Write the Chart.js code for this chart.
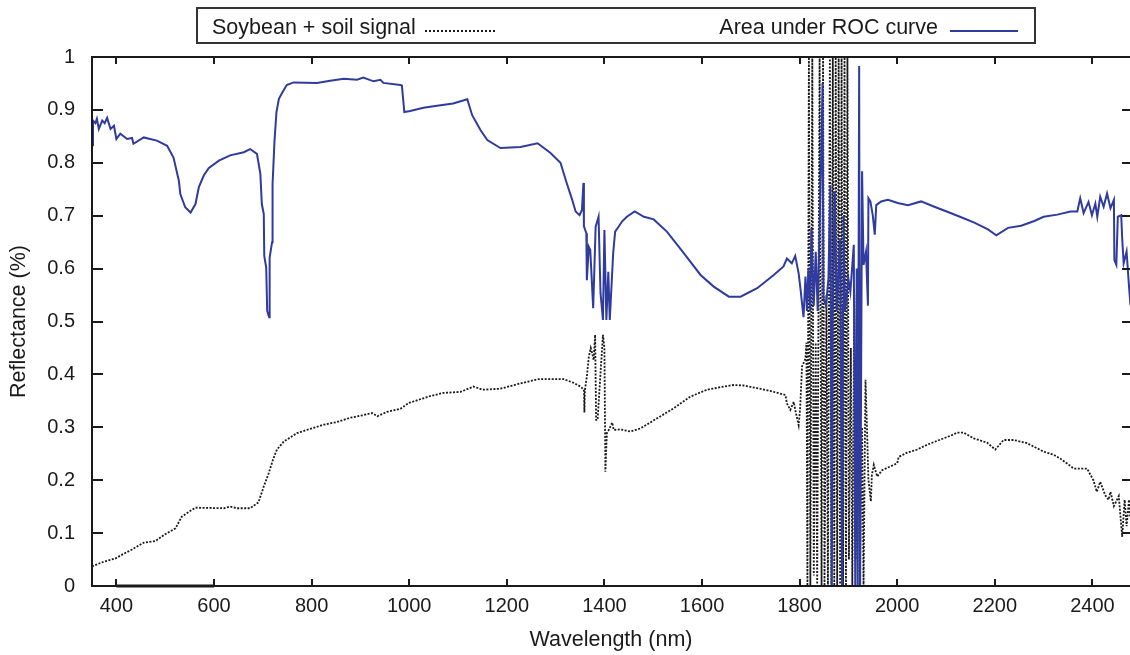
<!DOCTYPE html>
<html>
<head>
<meta charset="utf-8">
<script src="https://cdn.jsdelivr.net/npm/chart.js@4.4.1/dist/chart.umd.min.js"></script>
<style>
  html, body { margin: 0; padding: 0; background: #fff; }
  #wrap { position: relative; width: 1130px; height: 655px; overflow: hidden; font-family: 'Liberation Sans', Arial, sans-serif; color: #1a1a1a; }
  #chart { position: absolute; left: 0; top: 0; }
  #legend { position: absolute; left: 196px; top: 7px; width: 836px; height: 33px; border: 2px solid #333; }
  #legend .txt { position: absolute; top: 6px; font-size: 21.5px; line-height: 24px; white-space: nowrap; }
  #legend .smp { position: absolute; top: 21px; height: 0; }
  .dots { border-top: 2px dotted #1a1a1a; }
  .solid { border-top: 2px solid #2f3b9e; }
</style>
</head>
<body>
<div id="wrap">
  <canvas id="chart" width="1130" height="655"></canvas>
  <div id="legend">
    <span class="txt" id="lt0" style="left:14px"></span>
    <span class="smp dots" style="left:227px; width:70px"></span>
    <span class="txt" id="lt1" style="right:96px"></span>
    <span class="smp solid" style="left:752px; width:68px"></span>
  </div>
</div>
<script>
// series names
const seriesNames = ['Soybean + soil signal', 'Area under ROC curve'];

// soybean + soil signal (black dotted), wavelength in nm
const soyWavelength = [350, 374, 398, 415, 432, 456, 480, 500, 521, 534, 548, 562, 620, 633, 647, 674, 691, 702, 712, 721,
  729, 743, 770, 797, 825, 852, 879, 906, 924, 935, 954, 982, 999, 1023, 1043, 1070, 1105, 1132, 1150, 1187,
  1228, 1265, 1317, 1337, 1351, 1358, 1359, 1360, 1364, 1368, 1372, 1375, 1378, 1381, 1383, 1386, 1392, 1396, 1397, 1400,
  1402, 1405, 1409, 1416, 1419, 1433, 1453, 1474, 1508, 1542, 1576, 1610, 1644, 1665, 1685, 1713, 1747, 1771, 1774, 1781,
  1788, 1791, 1798, 1801, 1805, 1812, 1814, 1816, 1819, 1822, 1826, 1829, 1833, 1836, 1841, 1845, 1848, 1851, 1855, 1858,
  1862, 1865, 1868, 1871, 1874, 1877, 1880, 1883, 1886, 1889, 1892, 1895, 1898, 1901, 1905, 1908, 1912, 1915, 1919, 1923,
  1928, 1931, 1935, 1938, 1941, 1946, 1948, 1952, 1959, 1969, 1986, 2000, 2003, 2020, 2041, 2061, 2089, 2109, 2123, 2136,
  2157, 2184, 2201, 2218, 2239, 2266, 2300, 2321, 2334, 2362, 2375, 2389, 2402, 2409, 2416, 2426, 2433, 2437, 2444, 2454,
  2461, 2466, 2470, 2475, 2477, 2478];
const soyReflectance = [0.037, 0.046, 0.052, 0.061, 0.069, 0.082, 0.085, 0.098, 0.109, 0.131, 0.14, 0.148, 0.147, 0.15, 0.147, 0.147, 0.158, 0.188, 0.213, 0.239,
  0.258, 0.273, 0.289, 0.297, 0.305, 0.31, 0.318, 0.323, 0.327, 0.321, 0.329, 0.335, 0.346, 0.353, 0.359, 0.365, 0.367, 0.377, 0.371, 0.373,
  0.383, 0.391, 0.391, 0.384, 0.377, 0.371, 0.328, 0.37, 0.396, 0.433, 0.45, 0.44, 0.427, 0.475, 0.314, 0.314, 0.402, 0.46, 0.475, 0.45,
  0.216, 0.289, 0.295, 0.309, 0.295, 0.296, 0.292, 0.298, 0.317, 0.336, 0.358, 0.371, 0.377, 0.38, 0.379, 0.374, 0.367, 0.361, 0.345, 0.333,
  0.348, 0.333, 0.304, 0.335, 0.415, 0.43, 0.46, 0, 1, 0, 1, 0.02, 0.46, 0, 1, 0, 1, 0, 0.55, 0,
  1, 0, 1, 0, 1, 0, 1, 0, 1, 0, 1, 0, 1, 0.05, 0.45, 0, 0.55, 0.05, 0.55, 0,
  0.3, 0, 0.39, 0.3, 0.2, 0.16, 0.209, 0.229, 0.207, 0.219, 0.226, 0.232, 0.244, 0.252, 0.258, 0.267, 0.277, 0.284, 0.29, 0.29,
  0.279, 0.271, 0.258, 0.276, 0.276, 0.27, 0.254, 0.248, 0.241, 0.222, 0.222, 0.222, 0.2, 0.178, 0.197, 0.172, 0.163, 0.178, 0.151, 0.17,
  0.093, 0.163, 0.113, 0.163, 0.132, 0];

// area under ROC curve (blue solid)
const rocWavelength = [350, 352, 357, 360, 364, 371, 376, 381, 388, 395, 400, 408, 422, 432, 435, 456, 483, 504, 517, 528,
  531, 541, 552, 562, 569, 579, 589, 610, 633, 661, 674, 688, 695, 698, 702, 703, 707, 709, 713, 714,
  719, 720, 724, 728, 733, 740, 749, 763, 811, 838, 866, 893, 906, 927, 941, 947, 982, 985, 990, 1002,
  1029, 1057, 1090, 1119, 1129, 1146, 1160, 1187, 1228, 1263, 1289, 1310, 1323, 1334, 1341, 1349, 1354, 1357, 1358, 1363,
  1364, 1368, 1371, 1377, 1382, 1388, 1392, 1397, 1400, 1404, 1408, 1411, 1418, 1422, 1429, 1436, 1446, 1462, 1481, 1501,
  1528, 1563, 1597, 1624, 1655, 1679, 1713, 1747, 1767, 1774, 1784, 1791, 1798, 1802, 1808, 1812, 1815, 1818, 1822, 1824,
  1829, 1833, 1837, 1844, 1847, 1849, 1854, 1859, 1863, 1866, 1868, 1872, 1876, 1883, 1887, 1889, 1890, 1893, 1900, 1904,
  1911, 1914, 1917, 1919, 1922, 1924, 1928, 1931, 1936, 1940, 1941, 1945, 1950, 1954, 1957, 1967, 1981, 2001, 2022, 2049,
  2076, 2104, 2131, 2158, 2186, 2203, 2227, 2254, 2281, 2300, 2328, 2355, 2369, 2375, 2382, 2392, 2399, 2406, 2410, 2416,
  2423, 2430, 2437, 2444, 2445, 2449, 2452, 2459, 2461, 2464, 2470, 2475, 2478];
const rocValue = [0.833, 0.88, 0.875, 0.883, 0.864, 0.88, 0.875, 0.885, 0.864, 0.87, 0.845, 0.855, 0.845, 0.847, 0.836, 0.848, 0.842, 0.832, 0.81, 0.766,
  0.741, 0.716, 0.706, 0.722, 0.754, 0.776, 0.79, 0.804, 0.814, 0.82, 0.826, 0.817, 0.779, 0.722, 0.703, 0.624, 0.602, 0.52, 0.508, 0.621,
  0.65, 0.76, 0.842, 0.896, 0.921, 0.933, 0.947, 0.952, 0.951, 0.955, 0.959, 0.957, 0.961, 0.954, 0.957, 0.951, 0.947, 0.946, 0.896, 0.898,
  0.904, 0.908, 0.912, 0.92, 0.89, 0.862, 0.843, 0.828, 0.83, 0.837, 0.819, 0.8, 0.761, 0.73, 0.708, 0.701, 0.711, 0.762, 0.68, 0.667,
  0.578, 0.641, 0.635, 0.525, 0.679, 0.698, 0.554, 0.503, 0.673, 0.503, 0.594, 0.503, 0.63, 0.67, 0.679, 0.689, 0.698, 0.708, 0.698, 0.693,
  0.67, 0.629, 0.588, 0.566, 0.547, 0.547, 0.563, 0.588, 0.604, 0.619, 0.61, 0.624, 0.591, 0.56, 0.508, 0.585, 0.52, 0.6, 0.52, 0.676,
  0.53, 0.632, 0.52, 0.8, 0.951, 0.544, 0.53, 0.58, 0.758, 0, 0.52, 0.746, 0.52, 0.657, 0, 0.53, 0.7, 0.52, 0.58, 0.556,
  0.645, 0, 0.6, 0, 0.983, 0, 0.784, 0.607, 0.632, 0.53, 0.733, 0.727, 0.7, 0.664, 0.72, 0.727, 0.73, 0.724, 0.72, 0.727,
  0.717, 0.707, 0.697, 0.687, 0.674, 0.663, 0.677, 0.681, 0.69, 0.698, 0.702, 0.708, 0.708, 0.733, 0.705, 0.726, 0.701, 0.723, 0.698, 0.736,
  0.717, 0.742, 0.714, 0.73, 0.616, 0.607, 0.698, 0.701, 0.657, 0.61, 0.632, 0.566, 0.531];

// short thick segment lying on the x axis
const baseWavelength = [400, 600];
const baseValue = [0, 0];

// axes
const xMin = 350, xMax = 2477, xStep = 200;
const yMin = 0, yMax = 1, yStep = 0.1;
const axisTitles = ['Wavelength (nm)', 'Reflectance (%)'];

const toPoints = (xs, ys) => xs.map((x, i) => ({ x, y: ys[i] }));
const plainNumber = v => String(Math.round(v * 1000) / 1000);

document.getElementById('lt0').textContent = seriesNames[0];
document.getElementById('lt1').textContent = seriesNames[1];

// frame + inward ticks on all four sides (gnuplot look)
const frameTicks = {
  id: 'frameTicks',
  afterDatasetsDraw(chart) {
    const { ctx, chartArea: a, scales: { x, y } } = chart;
    ctx.save();
    ctx.strokeStyle = '#1a1a1a';
    ctx.lineWidth = 2;
    ctx.beginPath();
    ctx.moveTo(a.right + 2, a.top);
    ctx.lineTo(a.left, a.top);
    ctx.lineTo(a.left, a.bottom);
    ctx.lineTo(a.right + 2, a.bottom);
    x.ticks.forEach(t => {
      const px = Math.round(x.getPixelForValue(t.value));
      ctx.moveTo(px, a.bottom); ctx.lineTo(px, a.bottom - 7);
      ctx.moveTo(px, a.top); ctx.lineTo(px, a.top + 7);
    });
    y.ticks.forEach(t => {
      const py = Math.round(y.getPixelForValue(t.value));
      ctx.moveTo(a.left, py); ctx.lineTo(a.left + 11, py);
      ctx.moveTo(a.right, py); ctx.lineTo(a.right - 8, py);
    });
    ctx.stroke();
    ctx.restore();
  }
};

const tickFont = { family: "'Liberation Sans', Arial, sans-serif", size: 20 };
const titleFont = { family: "'Liberation Sans', Arial, sans-serif", size: 21.5 };

new Chart(document.getElementById('chart'), {
  type: 'line',
  data: {
    datasets: [
      {
        label: seriesNames[0],
        data: toPoints(soyWavelength, soyReflectance),
        borderColor: '#1a1a1a',
        borderWidth: 1.8,
        borderDash: [2, 1.5],
        pointRadius: 0,
        tension: 0,
        order: 2
      },
      {
        label: seriesNames[1],
        data: toPoints(rocWavelength, rocValue),
        borderColor: '#2f3b9e',
        borderWidth: 2,
        pointRadius: 0,
        tension: 0,
        order: 1
      },
      {
        label: 'base',
        data: toPoints(baseWavelength, baseValue),
        borderColor: '#1a1a1a',
        borderWidth: 3,
        pointRadius: 0,
        clip: false,
        order: 0
      }
    ]
  },
  options: {
    responsive: false,
    animation: false,
    layout: { padding: { top: 57, right: 0, bottom: 0, left: 0 } },
    plugins: { legend: { display: false }, tooltip: { enabled: false } },
    scales: {
      x: {
        type: 'linear',
        min: xMin,
        max: xMax,
        grid: { display: false, drawTicks: false },
        border: { display: false },
        afterFit: s => { s.height = 69; },
        ticks: {
          stepSize: xStep,
          includeBounds: false,
          autoSkip: false,
          maxRotation: 0,
          padding: 8,
          color: '#1a1a1a',
          font: tickFont,
          callback: plainNumber
        },
        title: {
          display: true,
          text: axisTitles[0],
          color: '#1a1a1a',
          padding: { top: 0, bottom: 2 },
          font: titleFont
        }
      },
      y: {
        type: 'linear',
        min: yMin,
        max: yMax,
        grid: { display: false, drawTicks: false },
        border: { display: false },
        afterFit: s => { s.width = 92; },
        ticks: {
          stepSize: yStep,
          padding: 17,
          color: '#1a1a1a',
          font: tickFont,
          callback: plainNumber
        },
        title: {
          display: true,
          text: axisTitles[1],
          color: '#1a1a1a',
          padding: { top: 6, bottom: 0 },
          font: titleFont
        }
      }
    }
  },
  plugins: [frameTicks]
});
</script>
</body>
</html>
